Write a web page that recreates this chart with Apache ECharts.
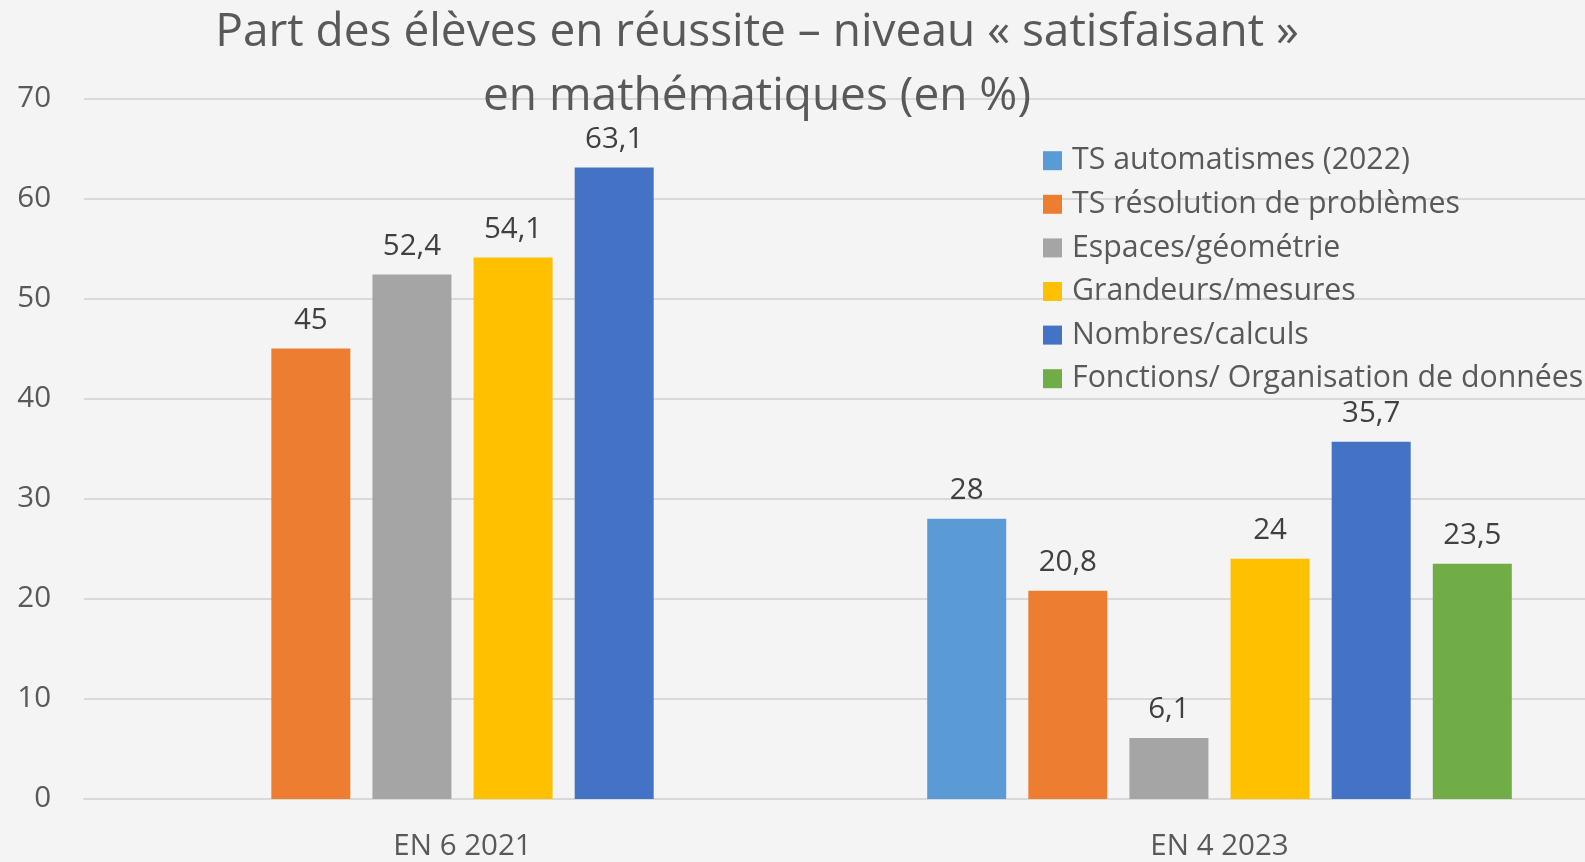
<!DOCTYPE html>
<html><head><meta charset="utf-8">
<script src="https://cdn.jsdelivr.net/npm/echarts@6/dist/echarts.min.js"></script>
<style>html,body{margin:0;padding:0;background:#f4f4f4;overflow:hidden;width:1585px;height:862px}#c{width:1598px;height:862px}</style>
</head><body><div id="c"></div>
<script>
const categories = ["EN 6 2021", "EN 4 2023"];
const seriesNames = ["TS automatismes (2022)", "TS résolution de problèmes", "Espaces/géométrie", "Grandeurs/mesures", "Nombres/calculs", "Fonctions/ Organisation de données"];
const tsAutomatismes = [null, 28];
const tsResolution = [45, 20.8];
const espaces = [52.4, 6.1];
const grandeurs = [54.1, 24];
const nombres = [63.1, 35.7];
const fonctions = [null, 23.5];
const yTicks = [0, 10, 20, 30, 40, 50, 60, 70];
const colors = ["#5B9BD5", "#ED7D31", "#A5A5A5", "#FFC000", "#4472C4", "#70AD47"];
const values = [tsAutomatismes, tsResolution, espaces, grandeurs, nombres, fonctions];

const FONT = "Open Sans";
const FS = 29.5;
const chart = echarts.init(document.getElementById('c'));
chart.setOption({
  backgroundColor: '#f4f4f4',
  animation: false,
  title: {
    text: 'Part des élèves en réussite – niveau « satisfaisant »\nen mathématiques (en %)',
    left: 757, top: 1, textAlign: 'center', padding: 0,
    textStyle: { fontFamily: FONT, fontSize: 46, fontWeight: 'normal', color: '#595959', lineHeight: 64 }
  },
  legend: {
    orient: 'vertical', left: 1043, top: 145.7, padding: 0,
    itemWidth: 19, itemHeight: 19, itemGap: 13.6,
    icon: 'rect',
    textStyle: { fontFamily: FONT, fontSize: 30.3, color: '#595959', lineHeight: 30, padding: [0, 0, 0, 5] },
    data: seriesNames
  },
  grid: { left: 84, right: 0, top: 98.4, bottom: 62.4, containLabel: false },
  xAxis: {
    type: 'category', data: categories,
    axisLine: { lineStyle: { color: '#d9d9d9', width: 2 } },
    axisTick: { show: false },
    axisLabel: { fontFamily: FONT, fontSize: FS, color: '#595959', margin: 33 }
  },
  yAxis: {
    type: 'value', min: yTicks[0], max: yTicks[yTicks.length - 1], interval: 10,
    axisLine: { show: false }, axisTick: { show: false },
    splitLine: { lineStyle: { color: '#d9d9d9', width: 2 } },
    axisLabel: { fontFamily: FONT, fontSize: FS, color: '#595959', margin: 33 }
  },
  series: seriesNames.map((n, i) => ({
    name: n, type: 'bar', data: values[i],
    barWidth: 79, barGap: '28%',
    itemStyle: { color: colors[i] },
    label: { show: true, position: 'top', distance: 13, fontFamily: FONT, fontSize: FS, color: '#404040',
      formatter: p => (p.value == null ? '' : String(p.value).replace('.', ',')) }
  }))
});
</script></body></html>
